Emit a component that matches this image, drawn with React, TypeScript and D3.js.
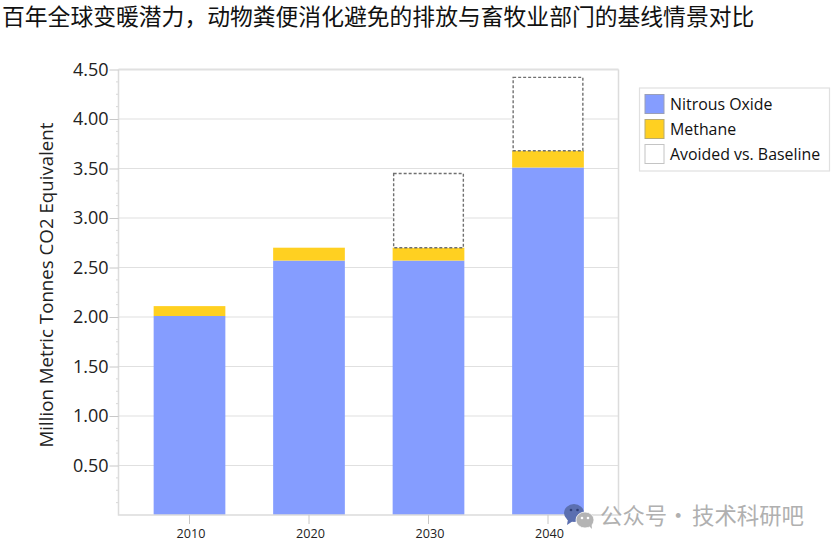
import React, { useEffect, useRef } from 'react';
import * as d3 from 'd3';

const years = ['2010', '2020', '2030', '2040'];
const nitrousOxide = [2.01, 2.57, 2.57, 3.51];
const methane = [0.1, 0.13, 0.13, 0.17];
const avoided = [0, 0, 0.75, 0.74];
const yTicks = [0.5, 1, 1.5, 2, 2.5, 3, 3.5, 4, 4.5];
const legendLabels = ['Nitrous Oxide', 'Methane', 'Avoided vs. Baseline'];
const legendColors = ['#859dff', '#ffd021', '#ffffff'];
const legendBorders = ['#9a9fb8', '#b8ab70', '#c4c4c4'];

const title = '百年全球变暖潜力，动物粪便消化避免的排放与畜牧业部门的基线情景对比';
const latin = '"Open Sans", "Noto Sans", sans-serif';
const cjk = '"Noto Sans CJK SC", sans-serif';

function App() {
  const svgRef = useRef<SVGSVGElement>(null);

  useEffect(() => {
    const svg = d3.select(svgRef.current);
    svg.selectAll('*').remove();

    const left = 118.5;
    const right = 618.5;
    const bottom = 515;
    const top = 69.5;

    const x = d3.scaleBand().domain(years).range([153.65, 583.85]).paddingInner(0.4).paddingOuter(0);
    const y = d3.scaleLinear().domain([0, 4.5]).range([bottom, top]);

    svg.append('text')
      .attr('x', 2)
      .attr('y', 25)
      .attr('font-family', cjk)
      .attr('font-size', 22.8)
      .attr('fill', '#111')
      .text(title);

    // grid
    svg.selectAll('line.grid')
      .data(yTicks)
      .enter()
      .append('line')
      .attr('x1', left)
      .attr('x2', right)
      .attr('y1', d => y(d))
      .attr('y2', d => y(d))
      .attr('stroke', '#e0e0e0')
      .attr('stroke-width', d => (d === 4.5 ? 2 : 1.2));

    // minor ticks
    const minor = d3.range(0.125, 4.5, 0.125).filter(d => d % 0.5 !== 0);
    svg.selectAll('line.minor')
      .data(minor)
      .enter()
      .append('line')
      .attr('x1', left - 2.5)
      .attr('x2', left)
      .attr('y1', d => y(d))
      .attr('y2', d => y(d))
      .attr('stroke', '#d8d8d8');

    // stacked bars
    years.forEach((year, i) => {
      const n = nitrousOxide[i];
      const m = n + methane[i];
      svg.append('rect')
        .attr('x', x(year)!)
        .attr('y', y(n))
        .attr('width', x.bandwidth())
        .attr('height', y(0) - y(n))
        .attr('fill', legendColors[0]);
      svg.append('rect')
        .attr('x', x(year)!)
        .attr('y', y(m))
        .attr('width', x.bandwidth())
        .attr('height', y(n) - y(m))
        .attr('fill', legendColors[1]);
      if (avoided[i] > 0) {
        svg.append('rect')
          .attr('x', x(year)! + 1)
          .attr('y', y(m + avoided[i]))
          .attr('width', x.bandwidth() - 2)
          .attr('height', y(m) - y(m + avoided[i]))
          .attr('fill', '#fff')
          .attr('stroke', '#707070')
          .attr('stroke-width', 1.4)
          .attr('stroke-dasharray', '3 2');
      }
    });

    // axis frame
    svg.append('path')
      .attr('d', `M${left},${top}V${bottom}H${right}V${top}`)
      .attr('fill', 'none')
      .attr('stroke', '#dcdcdc')
      .attr('stroke-width', 1.5);

    const yAxis = svg.append('g')
      .attr('transform', `translate(${left}, 0)`)
      .call(d3.axisLeft(y).tickValues(yTicks).tickFormat(d3.format('.2f')).tickSize(9).tickPadding(1));
    yAxis.select('.domain').remove();
    yAxis.selectAll('line').attr('stroke', '#c8c8c8');
    yAxis.selectAll('text')
      .attr('font-family', latin)
      .attr('font-size', 18)
      .attr('fill', '#222');

    const xAxis = svg.append('g')
      .attr('transform', `translate(0, ${bottom})`)
      .call(d3.axisBottom(x).tickSize(9).tickPadding(5));
    xAxis.select('.domain').remove();
    xAxis.selectAll('line').attr('stroke', '#c8c8c8');
    xAxis.selectAll('text')
      .attr('dx', 1.5)
      .attr('font-family', latin)
      .attr('font-size', 12.6)
      .attr('fill', '#222');

    svg.append('text')
      .attr('transform', `translate(53, 285) rotate(-90)`)
      .attr('text-anchor', 'middle')
      .attr('font-family', latin)
      .attr('font-size', 18.7)
      .attr('fill', '#222')
      .text('Million Metric Tonnes CO2 Equivalent');

    // legend
    svg.append('rect')
      .attr('x', 639.5)
      .attr('y', 88)
      .attr('width', 190)
      .attr('height', 83)
      .attr('fill', '#fff')
      .attr('stroke', '#e0e0e0')
      .attr('stroke-width', 1.2);
    legendLabels.forEach((label, i) => {
      const rowY = 94.5 + i * 25;
      svg.append('rect')
        .attr('x', 645)
        .attr('y', rowY)
        .attr('width', 19)
        .attr('height', 19)
        .attr('fill', legendColors[i])
        .attr('stroke', legendBorders[i]);
      svg.append('text')
        .attr('x', 670)
        .attr('y', rowY + 15)
        .attr('font-family', latin)
        .attr('font-size', 15.9)
        .attr('fill', '#111')
        .text(label);
    });

    // watermark
    const mark = svg.append('g');
    mark.append('ellipse')
      .attr('cx', 574).attr('cy', 513).attr('rx', 10).attr('ry', 9)
      .attr('fill', '#5b6fb0');
    mark.append('path')
      .attr('d', 'M568,519l-1,6l6,-4z')
      .attr('fill', '#5b6fb0');
    mark.append('ellipse')
      .attr('cx', 585).attr('cy', 520).attr('rx', 9).attr('ry', 8)
      .attr('fill', '#b4b4b4')
      .attr('stroke', '#fff')
      .attr('stroke-width', 0.8);
    mark.append('path')
      .attr('d', 'M589,526l3,3l-0.5,-5z')
      .attr('fill', '#b4b4b4');
    [[571, 510, '#2f3f78'], [577.5, 510, '#2f3f78'], [582, 518, '#fff'], [588, 518, '#fff']].forEach(([cx, cy, fill]) => {
      mark.append('circle')
        .attr('cx', cx as number)
        .attr('cy', cy as number)
        .attr('r', 1.3)
        .attr('fill', fill as string);
    });
    [['公众号', 600], ['·', 667], ['技术科研吧', 692]].forEach(([text, at]) => {
      mark.append('text')
        .attr('x', at as number)
        .attr('y', 524)
        .attr('font-family', cjk)
        .attr('font-size', 22.4)
        .attr('fill', '#b0b0b0')
        .text(text as string);
    });
  }, []);

  return (
    <svg
      ref={svgRef}
      width={831}
      height={549}
      style={{ position: 'absolute', left: 0, top: 0, background: '#fff' }}
    />
  );
}

export default App;
